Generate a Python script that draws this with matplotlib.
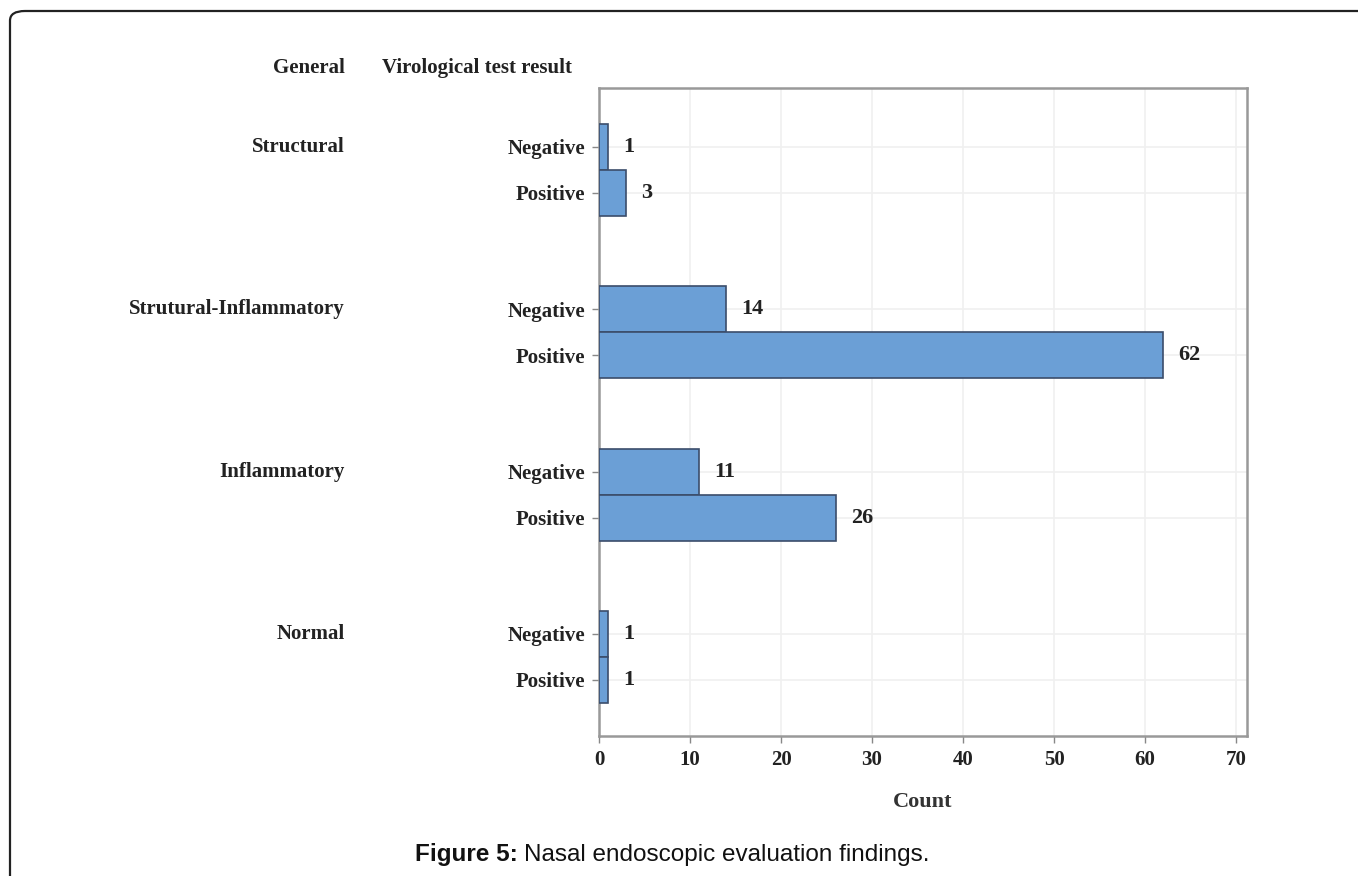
import matplotlib
matplotlib.use("Agg")
import matplotlib.pyplot as plt
from matplotlib.patches import FancyBboxPatch

groups = ["Structural", "Strutural-Inflammatory", "Inflammatory", "Normal"]
results = ["Negative", "Positive"]
negative = [1, 14, 11, 1]
positive = [3, 62, 26, 1]
x_ticks = [0, 10, 20, 30, 40, 50, 60, 70]

W, H = 1358, 876
fig = plt.figure(figsize=(W / 100, H / 100), dpi=100)

serif = ["Liberation Serif", "DejaVu Serif"]
sans = ["Liberation Sans", "DejaVu Sans"]

# outer frame (rounded corner at top-left, extends off the image on right/bottom)
frame = FancyBboxPatch((10 / W, -40 / H), (W + 60) / W, (H + 40 - 11) / H,
                       boxstyle="round,pad=0,rounding_size=0.011",
                       transform=fig.transFigure, fill=False, edgecolor="#222222",
                       linewidth=1.6, clip_on=False)
fig.patches.append(frame)

ax = fig.add_axes([599 / W, 1 - 736 / H, (1247 - 599) / W, (736 - 88) / H])

gstep = 3.53
ypos, vals, labels = [], [], []
for gi, g in enumerate(groups):
    for ri, r in enumerate(results):
        ypos.append(gi * gstep + ri)
        vals.append(negative[gi] if ri == 0 else positive[gi])
        labels.append(r)

ax.barh(ypos, vals, height=1.0, color="#6b9fd6", edgecolor="#3b4d6b",
        linewidth=1.2, zorder=3)
for y, v in zip(ypos, vals):
    ax.annotate(str(v), xy=(v, y), xytext=(11, 0), textcoords="offset points",
                va="center", ha="left", fontsize=16, fontweight="bold",
                family=serif, color="#222222")

ax.set_ylim(ypos[-1] + 1.22, -1.28)
ax.set_xlim(0, 71.2)
ax.set_yticks(ypos)
ax.set_yticklabels(labels, fontsize=15, fontweight="bold", family=serif, color="#222222")
ax.set_xticks(x_ticks)
ax.set_xticklabels([str(t) for t in x_ticks], fontsize=15, fontweight="bold",
                   family=serif, color="#222222")
ax.tick_params(axis="both", length=5, width=1, color="#888888", pad=5)
ax.grid(True, color="#f0f0f0", linewidth=1.2, zorder=0)
ax.set_axisbelow(True)
for s in ax.spines.values():
    s.set_color("#999999")
    s.set_linewidth(1.8)
ax.set_xlabel("Count", fontsize=16, fontweight="bold", family=serif,
              color="#333333", labelpad=16)

# group labels and headers
for gi, g in enumerate(groups):
    y_disp = ax.transData.transform((0, gi * gstep))[1]
    fig.text(345 / W, y_disp / H, g, ha="right", va="center", fontsize=15,
             fontweight="bold", family=serif, color="#222222")
fig.text(345 / W, 1 - 68 / H, "General", ha="right", va="center", fontsize=15,
         fontweight="bold", family=serif, color="#222222")
fig.text(382 / W, 1 - 68 / H, "Virological test result", ha="left", va="center",
         fontsize=15, fontweight="bold", family=serif, color="#222222")

# caption
cap_y = 1 - 855 / H
t1 = fig.text(415 / W, cap_y, "Figure 5:", ha="left", va="center", fontsize=17.5,
              fontweight="bold", family=sans, color="#111111")
fig.canvas.draw()
bb = t1.get_window_extent()
fig.text(bb.x1 / W + 6 / W, cap_y, "Nasal endoscopic evaluation findings.", ha="left",
         va="center", fontsize=17.5, family=sans, color="#111111")

fig.savefig("out.png", dpi=100)
